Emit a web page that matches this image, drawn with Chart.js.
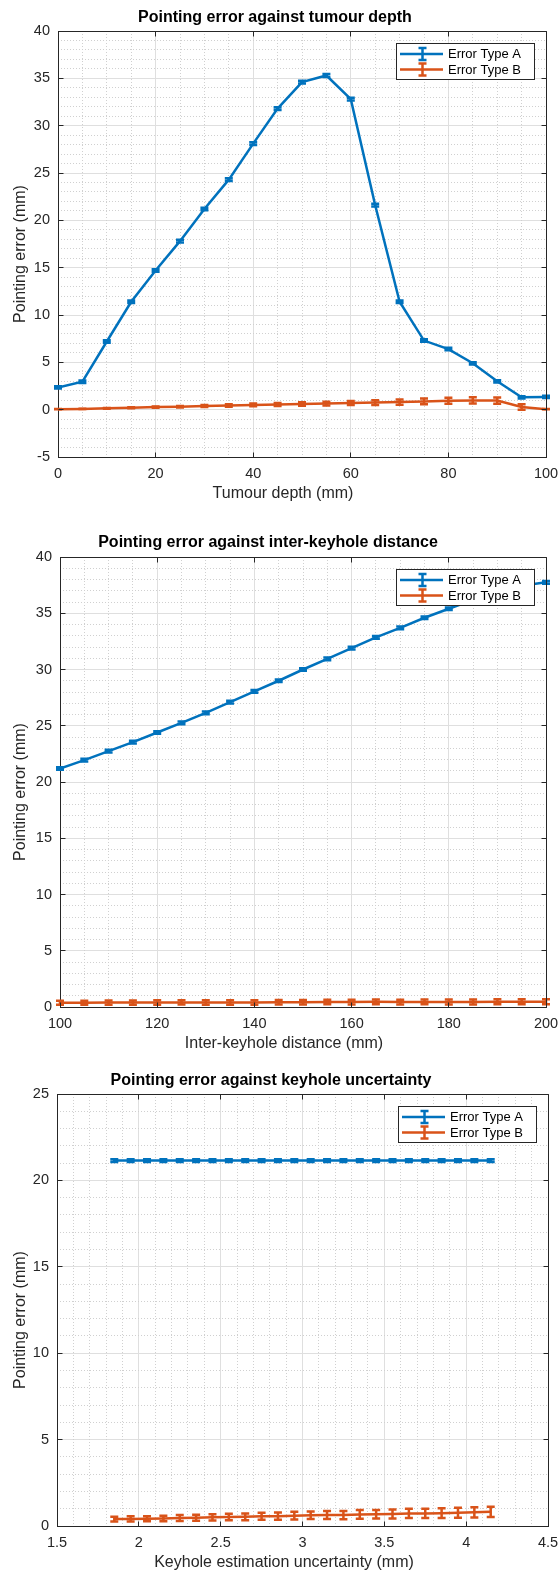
<!DOCTYPE html>
<html>
<head>
<meta charset="utf-8">
<title>Pointing error</title>
<script src="https://cdn.jsdelivr.net/npm/chart.js@4.4.1/dist/chart.umd.min.js"></script>
<style>
  html, body { margin: 0; padding: 0; background: #fff; }
  body { width: 558px; height: 1574px; position: relative; overflow: hidden; }
  canvas { position: absolute; left: 0; }
</style>
</head>
<body>
<canvas id="depthChart" width="558" height="510" style="top:0px"></canvas>
<canvas id="distanceChart" width="558" height="552" style="top:510px"></canvas>
<canvas id="uncertaintyChart" width="558" height="512" style="top:1062px"></canvas>
<script>
// values
const seriesLabels = ["Error Type A", "Error Type B"];
const seriesColors = ["#0072BD", "#D95319"];
const yLabel = "Pointing error (mm)";

// panel 1: tumour depth
const depthX = [0, 5, 10, 15, 20, 25, 30, 35, 40, 45, 50, 55, 60, 65, 70, 75, 80, 85, 90, 95, 100];
const depthA = [2.35, 2.95, 7.2, 11.4, 14.7, 17.8, 21.2, 24.3, 28.1, 31.8, 34.6, 35.3, 32.8, 21.6, 11.4, 7.3, 6.4, 4.9, 3.0, 1.3, 1.35];
const depthAErr = [0.12, 0.12, 0.13, 0.13, 0.14, 0.14, 0.14, 0.15, 0.15, 0.15, 0.15, 0.15, 0.15, 0.15, 0.14, 0.13, 0.13, 0.12, 0.12, 0.12, 0.12];
const depthB = [0.05, 0.08, 0.14, 0.2, 0.27, 0.32, 0.38, 0.44, 0.5, 0.55, 0.6, 0.64, 0.7, 0.75, 0.8, 0.87, 0.94, 0.97, 0.96, 0.28, 0.05];
const depthBErr = [0.01, 0.02, 0.03, 0.05, 0.06, 0.08, 0.1, 0.12, 0.14, 0.16, 0.18, 0.2, 0.22, 0.25, 0.27, 0.3, 0.32, 0.33, 0.33, 0.3, 0.01];
const depthTicksX = [0, 20, 40, 60, 80, 100];
const depthTicksY = [-5, 0, 5, 10, 15, 20, 25, 30, 35, 40];

// panel 2: inter-keyhole distance
const distanceX = [100, 105, 110, 115, 120, 125, 130, 135, 140, 145, 150, 155, 160, 165, 170, 175, 180, 185, 190, 195, 200];
const distanceA = [21.2, 21.95, 22.75, 23.55, 24.4, 25.25, 26.15, 27.1, 28.05, 29.0, 30.0, 30.95, 31.9, 32.85, 33.7, 34.6, 35.4, 36.2, 36.9, 37.45, 37.75];
const distanceAErr = [0.12, 0.12, 0.12, 0.12, 0.12, 0.12, 0.12, 0.12, 0.12, 0.12, 0.12, 0.12, 0.12, 0.12, 0.12, 0.12, 0.12, 0.12, 0.12, 0.12, 0.12];
const distanceB = [0.38, 0.38, 0.39, 0.39, 0.4, 0.41, 0.4, 0.4, 0.41, 0.42, 0.43, 0.44, 0.44, 0.46, 0.44, 0.45, 0.45, 0.45, 0.46, 0.46, 0.47];
const distanceBErr = [0.18, 0.18, 0.18, 0.19, 0.19, 0.19, 0.19, 0.2, 0.2, 0.2, 0.2, 0.2, 0.21, 0.21, 0.21, 0.21, 0.22, 0.22, 0.22, 0.22, 0.22];
const distanceTicksX = [100, 120, 140, 160, 180, 200];
const distanceTicksY = [0, 5, 10, 15, 20, 25, 30, 35, 40];

// panel 3: keyhole uncertainty
const uncertaintyX = [1.85, 1.95, 2.05, 2.15, 2.25, 2.35, 2.45, 2.55, 2.65, 2.75, 2.85, 2.95, 3.05, 3.15, 3.25, 3.35, 3.45, 3.55, 3.65, 3.75, 3.85, 3.95, 4.05, 4.15];
const uncertaintyA = [21.15, 21.15, 21.15, 21.15, 21.15, 21.15, 21.15, 21.15, 21.15, 21.15, 21.15, 21.15, 21.15, 21.15, 21.15, 21.15, 21.15, 21.15, 21.15, 21.15, 21.15, 21.15, 21.15, 21.15];
const uncertaintyAErr = [0.08, 0.08, 0.08, 0.08, 0.08, 0.08, 0.08, 0.08, 0.08, 0.08, 0.08, 0.08, 0.08, 0.08, 0.08, 0.08, 0.08, 0.08, 0.08, 0.08, 0.08, 0.08, 0.08, 0.08];
const uncertaintyB = [0.4, 0.41, 0.42, 0.44, 0.46, 0.48, 0.5, 0.52, 0.53, 0.56, 0.57, 0.6, 0.62, 0.64, 0.63, 0.67, 0.68, 0.7, 0.73, 0.73, 0.74, 0.77, 0.79, 0.82];
const uncertaintyBErr = [0.14, 0.15, 0.15, 0.16, 0.17, 0.17, 0.18, 0.19, 0.2, 0.2, 0.21, 0.22, 0.22, 0.23, 0.24, 0.25, 0.25, 0.26, 0.27, 0.27, 0.28, 0.29, 0.3, 0.3];
const uncertaintyTicksX = [1.5, 2, 2.5, 3, 3.5, 4, 4.5];
const uncertaintyTicksY = [0, 5, 10, 15, 20, 25];

const titles = [
  "Pointing error against tumour depth",
  "Pointing error against inter-keyhole distance",
  "Pointing error against keyhole uncertainty"
];
const xLabels = ["Tumour depth (mm)", "Inter-keyhole distance (mm)", "Keyhole estimation uncertainty (mm)"];

// look
const FONT = '"Liberation Sans", Arial, Helvetica, sans-serif';
const AXIS_COLOR = "#262626";
const MAJOR_GRID = "#dfdfdf";
const MINOR_GRID = "#d0d0d0";
const LINE_W = 2.5;
const CAP_HALF = 4;
const X_AXIS_H = 30;

// page layout of each panel (pixels)
const panels = [
  { canvas: "depthChart", pageTop: 0, height: 510,
    area: { left: 58, right: 546, top: 31, bottom: 457 },
    x: depthX, series: [depthA, depthB], errors: [depthAErr, depthBErr],
    xTicks: depthTicksX, yTicks: depthTicksY, xMinorStep: 5, yMinorStep: 1,
    title: titles[0], xLabel: xLabels[0],
    titlePos: [275, 18], xLabelPos: [283, 494], yLabelPos: [21, 254] },
  { canvas: "distanceChart", pageTop: 510, height: 552,
    area: { left: 60, right: 546, top: 557, bottom: 1007 },
    x: distanceX, series: [distanceA, distanceB], errors: [distanceAErr, distanceBErr],
    xTicks: distanceTicksX, yTicks: distanceTicksY, xMinorStep: 5, yMinorStep: 1,
    title: titles[1], xLabel: xLabels[1],
    titlePos: [268, 543], xLabelPos: [284, 1044], yLabelPos: [21, 792] },
  { canvas: "uncertaintyChart", pageTop: 1062, height: 512,
    area: { left: 57, right: 548, top: 1094, bottom: 1526 },
    x: uncertaintyX, series: [uncertaintyA, uncertaintyB], errors: [uncertaintyAErr, uncertaintyBErr],
    xTicks: uncertaintyTicksX, yTicks: uncertaintyTicksY, xMinorStep: 0.1, yMinorStep: 1,
    title: titles[2], xLabel: xLabels[2],
    titlePos: [271, 1081], xLabelPos: [284, 1563], yLabelPos: [21, 1320] }
];

function isMajor(ticks, v) {
  return ticks.some(t => Math.abs(t - v) < 1e-6);
}

function crisp(v) {
  return Math.round(v - 0.5) + 0.5;
}

function framePlugin(p) {
  return {
    id: "matlabFrame",
    afterDatasetDraw(chart, args) {
      const ds = chart.data.datasets[args.index];
      const err = p.errors[args.index];
      const xs = chart.scales.x, ys = chart.scales.y;
      const ctx = chart.ctx;
      ctx.save();
      ctx.strokeStyle = ds.borderColor;
      ctx.lineWidth = LINE_W;
      ds.data.forEach((pt, k) => {
        const px = xs.getPixelForValue(pt.x);
        const hi = ys.getPixelForValue(pt.y + err[k]);
        const lo = ys.getPixelForValue(pt.y - err[k]);
        ctx.beginPath();
        ctx.moveTo(px, hi); ctx.lineTo(px, lo);
        ctx.moveTo(px - CAP_HALF, hi); ctx.lineTo(px + CAP_HALF, hi);
        ctx.moveTo(px - CAP_HALF, lo); ctx.lineTo(px + CAP_HALF, lo);
        ctx.stroke();
      });
      ctx.restore();
    },
    afterDatasetsDraw(chart) {
      const ctx = chart.ctx;
      const a = chart.chartArea;
      const L = crisp(a.left), R = crisp(a.right), T = crisp(a.top), B = crisp(a.bottom);
      ctx.save();
      ctx.strokeStyle = AXIS_COLOR;
      ctx.lineWidth = 1;
      ctx.beginPath();
      ctx.moveTo(L, T); ctx.lineTo(R, T); ctx.lineTo(R, B);
      p.xTicks.forEach(v => {
        const px = crisp(chart.scales.x.getPixelForValue(v));
        ctx.moveTo(px, B); ctx.lineTo(px, B - 5);
        ctx.moveTo(px, T); ctx.lineTo(px, T + 5);
      });
      p.yTicks.forEach(v => {
        const py = crisp(chart.scales.y.getPixelForValue(v));
        ctx.moveTo(L, py); ctx.lineTo(L + 5, py);
        ctx.moveTo(R, py); ctx.lineTo(R - 5, py);
      });
      ctx.stroke();

      // legend, top right inside the axes
      const lw = 138, lh = 36;
      const bx = Math.round(a.right - 12 - lw), by = Math.round(a.top + 12);
      ctx.fillStyle = "#fff";
      ctx.fillRect(bx, by, lw, lh);
      ctx.strokeRect(bx + 0.5, by + 0.5, lw, lh);
      ctx.font = "13px " + FONT;
      ctx.textBaseline = "middle";
      ctx.textAlign = "left";
      chart.data.datasets.forEach((ds, i) => {
        const ry = by + 11 + i * 15.5;
        const cx = bx + 26.5;
        ctx.strokeStyle = ds.borderColor;
        ctx.lineWidth = LINE_W;
        ctx.beginPath();
        ctx.moveTo(bx + 4, ry); ctx.lineTo(bx + 47, ry);
        ctx.moveTo(cx, ry - 6); ctx.lineTo(cx, ry + 6);
        ctx.moveTo(cx - CAP_HALF, ry - 6); ctx.lineTo(cx + CAP_HALF, ry - 6);
        ctx.moveTo(cx - CAP_HALF, ry + 6); ctx.lineTo(cx + CAP_HALF, ry + 6);
        ctx.stroke();
        ctx.fillStyle = "#000";
        ctx.fillText(ds.label, bx + 52, ry + 0.5);
      });
      ctx.restore();
    },
    afterDraw(chart) {
      const ctx = chart.ctx;
      const off = p.pageTop;
      ctx.save();
      ctx.textAlign = "center";
      ctx.textBaseline = "middle";
      ctx.fillStyle = "#000";
      ctx.font = "bold 16px " + FONT;
      ctx.fillText(p.title, p.titlePos[0], p.titlePos[1] - off);
      ctx.fillStyle = AXIS_COLOR;
      ctx.font = "16px " + FONT;
      ctx.fillText(p.xLabel, p.xLabelPos[0], p.xLabelPos[1] - off);
      ctx.translate(p.yLabelPos[0], p.yLabelPos[1] - off);
      ctx.rotate(-Math.PI / 2);
      ctx.fillText(yLabel, 0, 0);
      ctx.restore();
    }
  };
}

function makeChart(p) {
  const xMin = p.xTicks[0], xMax = p.xTicks[p.xTicks.length - 1];
  const yMin = p.yTicks[0], yMax = p.yTicks[p.yTicks.length - 1];
  const tickFont = { family: FONT, size: 14.5 };
  const pad = {
    top: p.area.top - p.pageTop,
    right: 558 - p.area.right,
    bottom: p.pageTop + p.height - p.area.bottom - X_AXIS_H,
    left: 0
  };
  return new Chart(document.getElementById(p.canvas), {
    type: "line",
    data: {
      datasets: p.series.map((vals, i) => ({
        label: seriesLabels[i],
        data: p.x.map((x, k) => ({ x: x, y: vals[k] })),
        borderColor: seriesColors[i],
        backgroundColor: seriesColors[i],
        borderWidth: LINE_W,
        pointRadius: 0,
        pointHoverRadius: 0,
        tension: 0,
        fill: false
      }))
    },
    options: {
      responsive: false,
      animation: false,
      devicePixelRatio: 1,
      events: [],
      layout: { padding: pad },
      plugins: { legend: { display: false }, title: { display: false }, tooltip: { enabled: false } },
      scales: {
        x: {
          type: "linear", position: "bottom", min: xMin, max: xMax,
          afterBuildTicks: s => { s.ticks = p.xTicks.map(v => ({ value: v })); },
          afterFit: s => { s.height = X_AXIS_H; s.paddingLeft = 0; s.paddingRight = 0; },
          ticks: { callback: v => String(v), color: AXIS_COLOR, font: tickFont, padding: 8,
                   maxRotation: 0, minRotation: 0, autoSkip: false },
          grid: { color: MAJOR_GRID, lineWidth: 1, drawTicks: false },
          border: { display: true, color: AXIS_COLOR, width: 1 }
        },
        y: {
          type: "linear", position: "left", min: yMin, max: yMax,
          afterBuildTicks: s => { s.ticks = p.yTicks.map(v => ({ value: v })); },
          afterFit: s => { s.width = p.area.left; s.paddingTop = 0; s.paddingBottom = 0; },
          ticks: { callback: v => String(v), color: AXIS_COLOR, font: tickFont, padding: 8, autoSkip: false },
          grid: { color: MAJOR_GRID, lineWidth: 1, drawTicks: false },
          border: { display: true, color: AXIS_COLOR, width: 1 }
        },
        xMinor: {
          type: "linear", axis: "x", position: "bottom", min: xMin, max: xMax,
          afterFit: s => { s.height = 0; s.paddingLeft = 0; s.paddingRight = 0; },
          ticks: { display: false, stepSize: p.xMinorStep },
          grid: { z: -1, drawTicks: false, lineWidth: 1,
                  color: c => (c.tick && isMajor(p.xTicks, c.tick.value)) ? "rgba(0,0,0,0)" : MINOR_GRID },
          border: { display: false, dash: [1, 2] }
        },
        yMinor: {
          type: "linear", axis: "y", position: "left", min: yMin, max: yMax,
          afterFit: s => { s.width = 0; s.paddingTop = 0; s.paddingBottom = 0; },
          ticks: { display: false, stepSize: p.yMinorStep },
          grid: { z: -1, drawTicks: false, lineWidth: 1,
                  color: c => (c.tick && isMajor(p.yTicks, c.tick.value)) ? "rgba(0,0,0,0)" : MINOR_GRID },
          border: { display: false, dash: [1, 2] }
        }
      }
    },
    plugins: [framePlugin(p)]
  });
}

panels.forEach(makeChart);
</script>
</body>
</html>
